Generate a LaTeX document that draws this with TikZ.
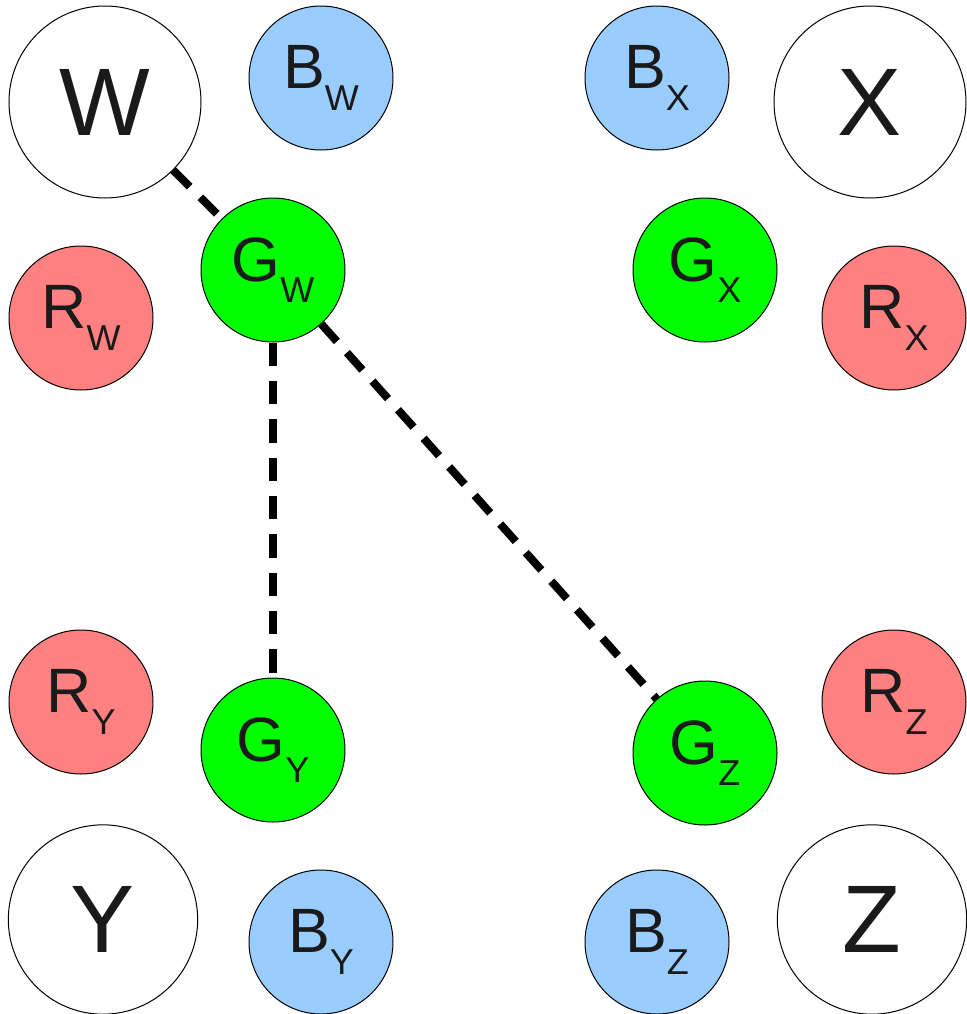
\documentclass[tikz,border=0pt]{standalone}
\usepackage{fontspec}
\setmainfont{Liberation Sans}
\definecolor{txt}{RGB}{26,26,26}
\definecolor{bluefill}{RGB}{153,204,255}
\definecolor{redfill}{RGB}{255,128,128}
\definecolor{greenfill}{RGB}{0,255,0}
\newcommand{\Lbl}[2]{{\fontsize{47}{47}\selectfont #1}\raisebox{-16.2pt}{\fontsize{27}{27}\selectfont #2}}
\begin{document}
\begin{tikzpicture}[x=0.75pt,y=-0.75pt,
  base/.style={circle,draw=black,line width=0.75pt,inner sep=0pt,text=txt},
  bignode/.style={base,fill=white,minimum size=144pt,font=\fontsize{72}{72}\selectfont},
  smallnode/.style={base,minimum size=108pt},
  bnode/.style={smallnode,fill=bluefill},
  rnode/.style={smallnode,fill=redfill},
  gnode/.style={smallnode,fill=greenfill},
  link/.style={line width=6pt,black,dash pattern=on 17.5pt off 11.25pt}]
\useasboundingbox (0,0) rectangle (967,1014);
% large nodes
\node[bignode] (W) at (105,102) {W};
\node[bignode] (X) at (870,102) {X};
\node[bignode,minimum size=142pt] (Y) at (103,919.5) {Y};
\node[bignode,minimum size=142pt] (Z) at (872,919.5) {Z};
% blue
\node[bnode] (BW) at (321,78) {\Lbl{B}{W}};
\node[bnode] (BX) at (657,78) {\Lbl{B}{X}};
\node[bnode] (BY) at (321,942) {\Lbl{B}{Y}};
\node[bnode] (BZ) at (657,942) {\Lbl{B}{Z}};
% green
\node[gnode] (GW) at (273,270) {\Lbl{G}{W}};
\node[gnode] (GX) at (705,270) {\Lbl{G}{X}};
\node[gnode] (GY) at (273,750) {\Lbl{G}{Y}};
\node[gnode] (GZ) at (705,753) {\Lbl{G}{Z}};
% red
\node[rnode] (RW) at (81,318) {\Lbl{R}{W}};
\node[rnode] (RX) at (894,318) {\Lbl{R}{X}};
\node[rnode] (RY) at (81,702) {\Lbl{R}{Y}};
\node[rnode] (RZ) at (894,702) {\Lbl{R}{Z}};
% links
\draw[link] (W) -- (GW);
\draw[link] (GW) -- (GY);
\draw[link] (GW) -- (GZ);
\end{tikzpicture}
\end{document}
